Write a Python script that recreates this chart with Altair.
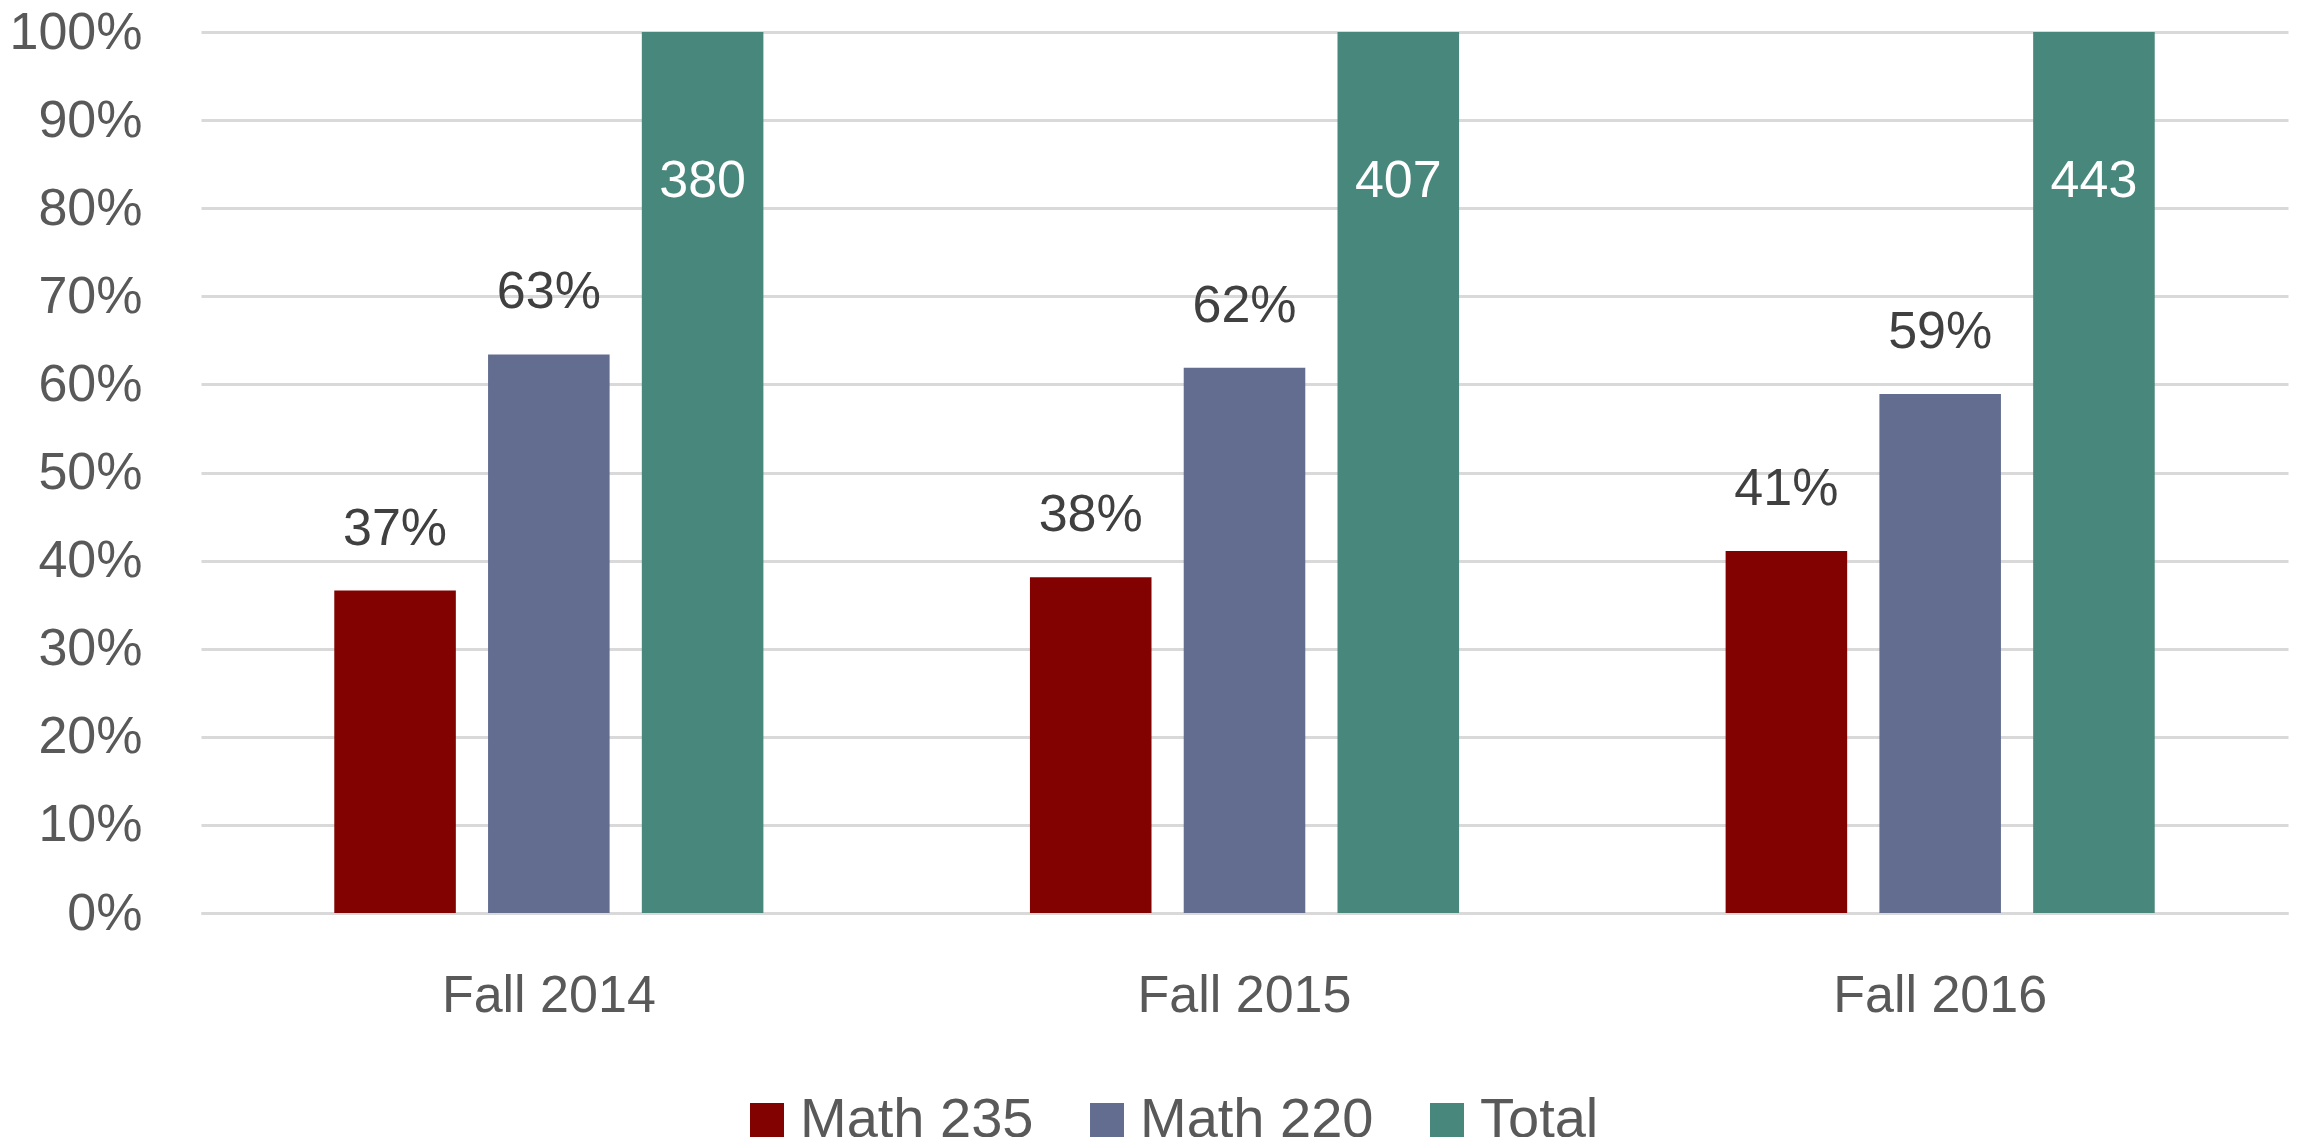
import altair as alt
import pandas as pd

terms = ["Fall 2014", "Fall 2015", "Fall 2016"]
series = ["Math 235", "Math 220", "Total"]
math235 = [0.366, 0.381, 0.411]
math220 = [0.634, 0.619, 0.589]
total_share = [1.0, 1.0, 1.0]
total_counts = [380, 407, 443]
colors = ["#820202", "#636d8f", "#48877b"]

rows = []
for i, t in enumerate(terms):
    rows.append({"term": t, "series": "Math 235", "value": math235[i], "label": f"{round(math235[i]*100)}%"})
    rows.append({"term": t, "series": "Math 220", "value": math220[i], "label": f"{round(math220[i]*100)}%"})
    rows.append({"term": t, "series": "Total", "value": total_share[i], "label": str(total_counts[i])})
df = pd.DataFrame(rows)

FONT = "Liberation Sans"
FS = 52

x_enc = alt.X("term:N", sort=terms, title=None,
              scale=alt.Scale(paddingInner=0, paddingOuter=0),
              axis=alt.Axis(labelAngle=0, labelFontSize=FS, labelColor="#595959", labelFont=FONT,
                            labelPadding=57, ticks=False, domainColor="#d9d9d9", domainWidth=3,
                            labelBaseline="top", labelLimit=600))
xo_enc = alt.XOffset("series:N", sort=series,
                     scale=alt.Scale(domain=series, paddingInner=0.2095, paddingOuter=0.8667))
y_enc = alt.Y("value:Q", title=None,
              scale=alt.Scale(domain=[0, 1], nice=False),
              axis=alt.Axis(values=[i / 10 for i in range(11)], format=".0%", labelFontSize=FS,
                            labelColor="#595959", labelFont=FONT, labelPadding=59, ticks=False,
                            domain=False, gridColor="#d9d9d9", gridWidth=3))

bars = alt.Chart(df).mark_bar().encode(
    x=x_enc, xOffset=xo_enc, y=y_enc,
    color=alt.Color("series:N", sort=series,
                    scale=alt.Scale(domain=series, range=colors),
                    legend=alt.Legend(title=None, orient="none", direction="horizontal",
                                      legendX=538, legendY=1060, symbolType="square",
                                      symbolSize=1156, symbolStrokeWidth=0, labelFontSize=56,
                                      labelFont=FONT, labelColor="#595959", labelOffset=5,
                                      columnPadding=45, labelLimit=600))
)

pct_labels = alt.Chart(df).transform_filter(alt.datum.series != "Total").mark_text(
    font=FONT, fontSize=FS, color="#404040", baseline="alphabetic", dy=-46
).encode(x=x_enc, xOffset=xo_enc, y=y_enc, text="label:N")

tot_labels = alt.Chart(df).transform_filter(alt.datum.series == "Total").mark_text(
    font=FONT, fontSize=FS, color="#ffffff", baseline="alphabetic", dy=165
).encode(x=x_enc, xOffset=xo_enc, y=y_enc, text="label:N")

chart = alt.layer(bars, pct_labels, tot_labels).properties(
    width=2087, height=881,
    autosize=alt.AutoSizeParams(type="none"),
    padding={"left": 193, "top": 24, "right": 2, "bottom": 224},
).configure_view(stroke=None)

chart.save("out.html", embed_options={"renderer": "svg", "actions": False})
